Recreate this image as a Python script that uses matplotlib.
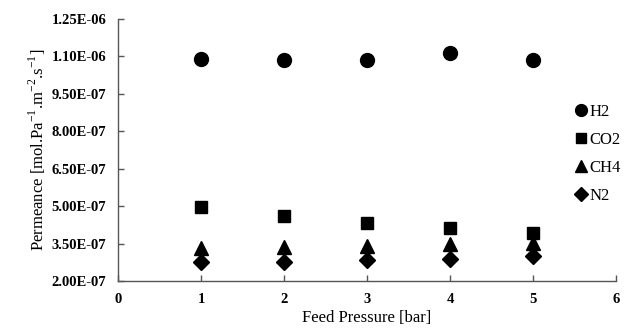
import matplotlib
matplotlib.use("Agg")
import matplotlib.pyplot as plt
from matplotlib.ticker import FuncFormatter, FixedLocator

pressure = [1, 2, 3, 4, 5]
h2 = [1.089e-6, 1.085e-6, 1.085e-6, 1.113e-6, 1.085e-6]
co2 = [4.98e-7, 4.62e-7, 4.34e-7, 4.14e-7, 3.94e-7]
ch4 = [3.31e-7, 3.35e-7, 3.40e-7, 3.47e-7, 3.51e-7]
n2 = [2.75e-7, 2.78e-7, 2.83e-7, 2.87e-7, 2.99e-7]
x_ticks = [0, 1, 2, 3, 4, 5, 6]
y_ticks = [2.0e-7, 3.5e-7, 5.0e-7, 6.5e-7, 8.0e-7, 9.5e-7, 1.1e-6, 1.25e-6]

plt.rcParams['font.family'] = ['Liberation Serif', 'DejaVu Serif']
plt.rcParams['axes.unicode_minus'] = False

fig = plt.figure(figsize=(6.27, 3.33), dpi=100)
ax = fig.add_axes([0.1882, 0.1562, 0.7943, 0.7868])

ax.plot(pressure, h2, 'o', color='black', markersize=10, label='H2')
ax.plot(pressure, co2, 's', color='black', markersize=9, label='CO2')
ax.plot(pressure, ch4, '^', color='black', markersize=10, label='CH4')
ax.plot(pressure, n2, 'D', color='black', markersize=8, label='N2')

ax.set_xlim(0, 6)
ax.set_ylim(2.0e-7, 1.25e-6)
ax.xaxis.set_major_locator(FixedLocator(x_ticks))
ax.yaxis.set_major_locator(FixedLocator(y_ticks))
ax.yaxis.set_major_formatter(FuncFormatter(lambda v, p: f"{v:.2E}"))

for s in ['top', 'right']:
    ax.spines[s].set_visible(False)
for s in ['left', 'bottom']:
    ax.spines[s].set_color('#555555')
    ax.spines[s].set_linewidth(1.0)
ax.tick_params(direction='in', length=4, width=1, color='#555555', pad=8.5)
for lbl in ax.get_xticklabels() + ax.get_yticklabels():
    lbl.set_fontweight('bold')
    lbl.set_fontsize(10.5)

ax.set_xlabel('Feed Pressure [bar]', fontsize=12, labelpad=3)
# Build the y label with real superscripts via separate text pieces
ylab = 'Permeance [mol.Pa$^{\\mathregular{-1}}$.m$^{\\mathregular{-2}}$.s$^{\\mathregular{-1}}$]'
ax.set_ylabel(ylab, fontsize=12, labelpad=2.5)

leg = ax.legend(loc='upper left', bbox_to_anchor=(0.905, 0.70), frameon=False,
                fontsize=12, handlelength=0.7, handletextpad=0.15,
                labelspacing=0.72, borderaxespad=0, markerscale=0.85)

fig.savefig('out.png', dpi=100)
